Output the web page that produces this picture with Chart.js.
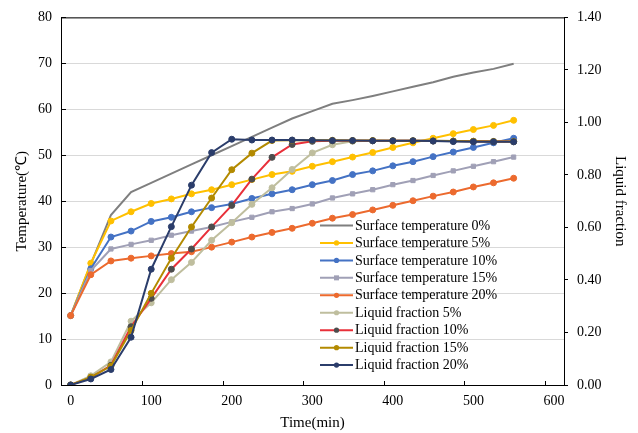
<!DOCTYPE html>
<html><head><meta charset="utf-8">
<script src="https://cdn.jsdelivr.net/npm/chart.js@4.4.1/dist/chart.umd.min.js"></script>
<style>html,body{margin:0;padding:0;background:#fff}#wrap{width:638px;height:433px}</style>
</head><body><div id="wrap"><canvas id="c" width="638" height="433"></canvas></div>
<script>
const times = [0,25,50,75,100,125,150,175,200,225,250,275,300,325,350,375,400,425,450,475,500,525,550];
const xTicks = [0,100,200,300,400,500,600];
const tempTicks = [0,10,20,30,40,50,60,70,80];
const fracTicks = [0,0.2,0.4,0.6,0.8,1.0,1.2,1.4];

const surf0  = [15.1,26.3,37.0,42.0,44.0,46.0,48.0,50.0,52.0,54.0,56.0,58.0,59.6,61.2,62.0,62.9,63.9,64.9,65.9,67.1,68.0,68.8,69.9];
const surf5  = [15.1,26.5,35.7,37.7,39.5,40.5,41.6,42.5,43.6,44.7,45.8,46.5,47.6,48.6,49.6,50.6,51.7,52.7,53.7,54.7,55.6,56.5,57.6];
const surf10 = [15.1,25.3,32.2,33.5,35.6,36.5,37.7,38.6,39.4,40.6,41.6,42.5,43.6,44.5,45.8,46.6,47.7,48.6,49.7,50.7,51.7,52.7,53.7];
const surf15 = [15.1,24.9,29.6,30.6,31.5,32.6,33.5,34.4,35.5,36.5,37.7,38.4,39.4,40.7,41.6,42.5,43.6,44.5,45.6,46.6,47.6,48.6,49.6];
const surf20 = [15.1,24.0,27.0,27.6,28.1,28.6,29.0,30.0,31.1,32.2,33.2,34.1,35.2,36.3,37.1,38.1,39.1,40.1,41.1,42.0,43.1,44.0,45.0];
const liq5   = [0,0.035,0.088,0.243,0.313,0.401,0.467,0.551,0.618,0.688,0.751,0.821,0.884,0.915,0.928,0.930,0.930,0.930,0.930,0.929,0.928,0.928,0.927];
const liq10  = [0,0.028,0.075,0.222,0.330,0.441,0.518,0.602,0.684,0.784,0.867,0.916,0.928,0.930,0.930,0.930,0.930,0.930,0.929,0.929,0.928,0.927,0.927];
const liq15  = [0,0.030,0.072,0.208,0.349,0.483,0.602,0.712,0.820,0.883,0.931,0.932,0.932,0.932,0.931,0.931,0.930,0.930,0.930,0.929,0.928,0.927,0.927];
const liq20  = [0,0.023,0.059,0.182,0.441,0.603,0.761,0.885,0.936,0.933,0.933,0.933,0.932,0.931,0.931,0.930,0.930,0.930,0.929,0.927,0.926,0.926,0.926];

const labels = ['Surface temperature 0%','Surface temperature 5%','Surface temperature 10%','Surface temperature 15%','Surface temperature 20%',
  'Liquid fraction 5%','Liquid fraction 10%','Liquid fraction 15%','Liquid fraction 20%'];
const series = [surf0,surf5,surf10,surf15,surf20,liq5,liq10,liq15,liq20];
const axes = ['y','y','y','y','y','y2','y2','y2','y2'];
const lineColors = ['#7f7f7f','#ffc000','#4472c4','#a0a0b6','#ec6a2e','#bfbe9e','#e8303a','#b38a00','#2b3d6b'];
const markColors = [null,'#ffc000','#4472c4','#a0a0b6','#ec6a2e','#bfbe9e','#4d4d4d','#b38a00','#2b3d6b'];
const markStyles = ['circle','circle','circle','rect','circle','circle','circle','circle','circle'];

const SERIF = '"Liberation Serif", "Times New Roman", serif';

const datasets = series.map((s,i)=>({
  label: labels[i],
  data: s.map((v,j)=>({x: times[j], y: v})),
  yAxisID: axes[i],
  borderColor: lineColors[i],
  backgroundColor: markColors[i] || lineColors[i],
  pointBackgroundColor: markColors[i] || lineColors[i],
  pointBorderColor: markColors[i] || lineColors[i],
  pointBorderWidth: 1,
  pointStyle: markStyles[i],
  pointRadius: markColors[i] ? 3 : 0,
  borderWidth: 2,
  tension: 0,
  order: 8 - i
}));

const framePlugin = {
  id: 'frame',
  beforeDatasetsDraw(chart){
    const {ctx, chartArea:a, scales} = chart;
    ctx.save();
    ctx.strokeStyle = '#000'; ctx.lineWidth = 1;
    ctx.beginPath(); ctx.moveTo(a.left, a.top+0.5); ctx.lineTo(a.right, a.top+0.5); ctx.stroke();
    ctx.beginPath();
    tempTicks.forEach(v=>{ const y = Math.round(scales.y.getPixelForValue(v))+0.5; ctx.moveTo(a.left, y); ctx.lineTo(a.left+5, y); });
    for (let k=1;k<=6;k++){ const x = Math.round(scales.x.getPixelForValue(-11.1+100*k))+0.5; ctx.moveTo(x, a.bottom); ctx.lineTo(x, a.bottom-4); }
    ctx.stroke();
    ctx.restore();
  },
  afterDatasetsDraw(chart){
    const ctx = chart.ctx;
    ctx.save();
    ctx.font = '14px ' + SERIF;
    ctx.textBaseline = 'middle';
    chart.data.datasets.forEach((ds,i)=>{
      const y = 225.5 + i*17.45;
      ctx.strokeStyle = ds.borderColor; ctx.lineWidth = 2;
      ctx.beginPath(); ctx.moveTo(320,y); ctx.lineTo(353,y); ctx.stroke();
      if (markColors[i]) {
        ctx.fillStyle = markColors[i];
        if (markStyles[i]==='rect') ctx.fillRect(334,y-2.5,5,5);
        else { ctx.beginPath(); ctx.arc(336.5,y,2.6,0,Math.PI*2); ctx.fill(); }
      }
      ctx.fillStyle = '#000';
      ctx.fillText(ds.label, 355, y+0.5);
    });
    ctx.restore();
  }
};

new Chart(document.getElementById('c'), {
  type: 'line',
  data: { datasets },
  plugins: [framePlugin],
  options: {
    responsive: false,
    devicePixelRatio: 1,
    animation: false,
    layout: { padding: { top: 15, left: 0, right: 0, bottom: 0 } },
    plugins: { legend: { display: false }, tooltip: { enabled: false } },
    scales: {
      x: {
        type: 'linear', min: -12, max: 612.5,
        afterFit(s){ s.height = 48; },
        afterBuildTicks(s){ s.ticks = xTicks.map(v=>({value:v})); },
        grid: { display: false, drawTicks: false },
        border: { display: true, color: '#000', width: 1 },
        ticks: { color: '#000', font: { family: SERIF, size: 14 }, padding: 8, maxRotation: 0, autoSkip: false },
        title: { display: true, text: 'Time(min)', color: '#000', font: { family: SERIF, size: 15 }, padding: { top: 0, bottom: 1 } }
      },
      y: {
        type: 'linear', position: 'left', min: 0, max: 80,
        afterFit(s){ s.width = 61; },
        afterBuildTicks(s){ s.ticks = tempTicks.map(v=>({value:v})); },
        grid: { color: '#d9d9d9', lineWidth: 1, drawTicks: false },
        border: { display: true, color: '#000', width: 1 },
        ticks: { color: '#000', font: { family: SERIF, size: 14 }, padding: 9 },
        title: { display: true, text: 'Temperature(℃)', color: '#000', font: { family: SERIF, size: 15 }, padding: { top: 13.5, bottom: 0 } }
      },
      y2: {
        type: 'linear', position: 'right', min: 0, max: 1.4,
        afterFit(s){ s.width = 74; },
        afterBuildTicks(s){ s.ticks = fracTicks.map(v=>({value:v})); },
        grid: { drawOnChartArea: false, drawTicks: true, tickLength: 4, color: '#000' },
        border: { display: true, color: '#000', width: 1 },
        ticks: { color: '#000', font: { family: SERIF, size: 14 }, padding: 9, callback: v => Number(v).toFixed(2) },
        title: { display: true, text: 'Liquid fraction', color: '#000', font: { family: SERIF, size: 15 }, padding: { top: 9, bottom: 0 } }
      }
    }
  }
});
</script>
</body></html>
